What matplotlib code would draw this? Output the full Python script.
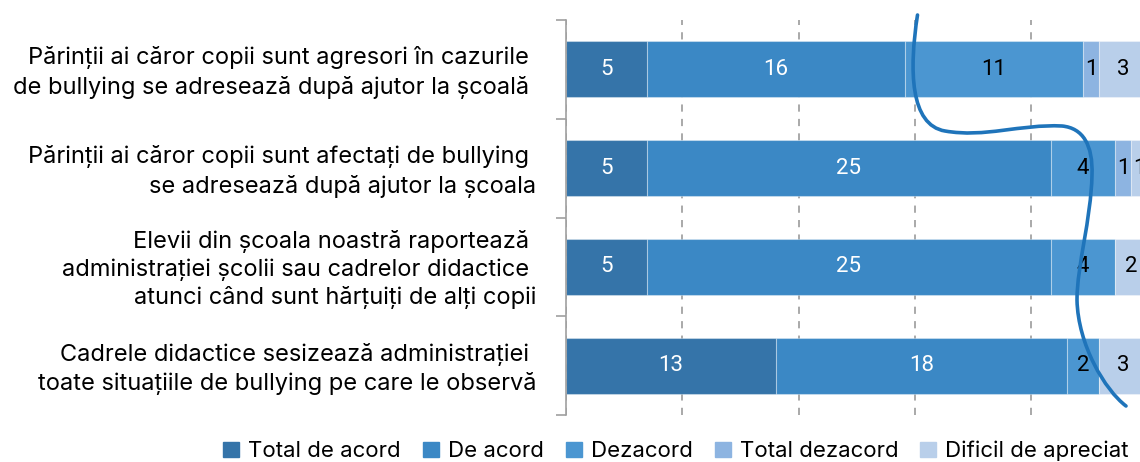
import matplotlib
matplotlib.use("Agg")
import matplotlib.pyplot as plt
import matplotlib.transforms as mtransforms
import numpy as np
from matplotlib.path import Path
from matplotlib.patches import PathPatch, Patch
from matplotlib.ticker import MultipleLocator

categories = [
    "Părinții ai căror copii sunt agresori în cazurile \nde bullying se adresează după ajutor la școală ",
    "Părinții ai căror copii sunt afectați de bullying \nse adresează după ajutor la școala",
    "Elevii din școala noastră raportează \nadministrației școlii sau cadrelor didactice \natunci când sunt hărțuiți de alți copii",
    "Cadrele didactice sesizează administrației \ntoate situațiile de bullying pe care le observă",
]
series = ["Total de acord", "De acord", "Dezacord", "Total dezacord", "Dificil de apreciat"]
total_acord = [5, 5, 5, 13]
de_acord = [16, 25, 25, 18]
dezacord = [11, 4, 4, 2]
total_dezacord = [1, 1, 0, 0]
dificil = [3, 1, 2, 3]

colors = ["#3574a9", "#3b88c5", "#4b96d1", "#8db4e1", "#b9cfea"]
label_colors = ["white", "white", "black", "black", "black"]
text_font = "Inter"

W, H = 1140, 462
fig = plt.figure(figsize=(W / 100, H / 100), dpi=100)
ax = fig.add_axes([566 / W, 47 / H, (1147.5 - 566) / W, 395 / H])

data = np.array([total_acord, de_acord, dezacord, total_dezacord, dificil], dtype=float)
total = data.sum(axis=0).max()
y = np.arange(len(categories))
left = np.zeros(len(categories))
for i, name in enumerate(series):
    vals = data[i]
    ax.barh(y, vals, left=left, height=0.567, color=colors[i], label=name,
            edgecolor=(1, 1, 1, 0.35), linewidth=0.8, zorder=2)
    for j, v in enumerate(vals):
        if v > 0:
            ax.text(left[j] + v / 2, y[j], f"{int(v)}", ha="center", va="center",
                    color=label_colors[i], fontsize=16, family="Roboto",
                    zorder=3, clip_on=False)
    left += vals

ax.set_xlim(0, total)
ax.set_ylim(len(categories) - 0.5, -0.5)
ax.xaxis.set_major_locator(MultipleLocator(total / 5))
ax.tick_params(axis="x", length=0, labelbottom=False)
ax.grid(axis="x", color="#a3a3a3", linestyle=(0, (4, 4)), linewidth=1.3, zorder=0)
ax.set_axisbelow(True)

for s in ["top", "right", "bottom"]:
    ax.spines[s].set_visible(False)
ax.spines["left"].set_color("#a0a0a0")
ax.spines["left"].set_linewidth(1.2)

ax.set_yticks(y)
ax.set_yticklabels(categories, fontsize=17, family=text_font, ha="right")
ax.set_yticks(np.arange(len(categories) + 1) - 0.5, minor=True)
ax.tick_params(axis="y", which="major", length=0, pad=21.6)
ax.tick_params(axis="y", which="minor", length=7, color="#a0a0a0", width=1.2)
shift = mtransforms.ScaledTranslation(0, 0.025, fig.dpi_scale_trans)
for lab in ax.get_yticklabels():
    lab.set_linespacing(1.38)
    lab.set_transform(lab.get_transform() + shift)
ax.get_yticklabels()[2].set_linespacing(1.3)

handles = [Patch(color=c) for c in colors]
fig.legend(handles, series, loc="center left", bbox_to_anchor=(223 / W, 1 - 451 / H),
           ncol=5, frameon=False, prop={"family": text_font, "size": 16},
           handlelength=0.72, handleheight=0.72, handletextpad=0.4, columnspacing=1.0,
           borderaxespad=0, borderpad=0)

# hand-drawn scribble over the chart (pixel coords, y from top)
scribble = [
    (917.5, 15), (909, 70), (910, 125), (945, 131),
    (985, 138), (1020, 124), (1062, 126),
    (1083, 128), (1093, 145), (1092, 175),
    (1091, 220), (1077, 265), (1077, 300),
    (1078, 345), (1105, 390), (1126, 406),
]
verts = [(px / W, 1 - py / H) for px, py in scribble]
codes = [Path.MOVETO] + [Path.CURVE4] * (len(verts) - 1)
fig.add_artist(PathPatch(Path(verts, codes), fill=False, edgecolor="#1f74ba",
                         linewidth=2.6, capstyle="round", transform=fig.transFigure,
                         zorder=10))

fig.savefig("out.png", dpi=100)
